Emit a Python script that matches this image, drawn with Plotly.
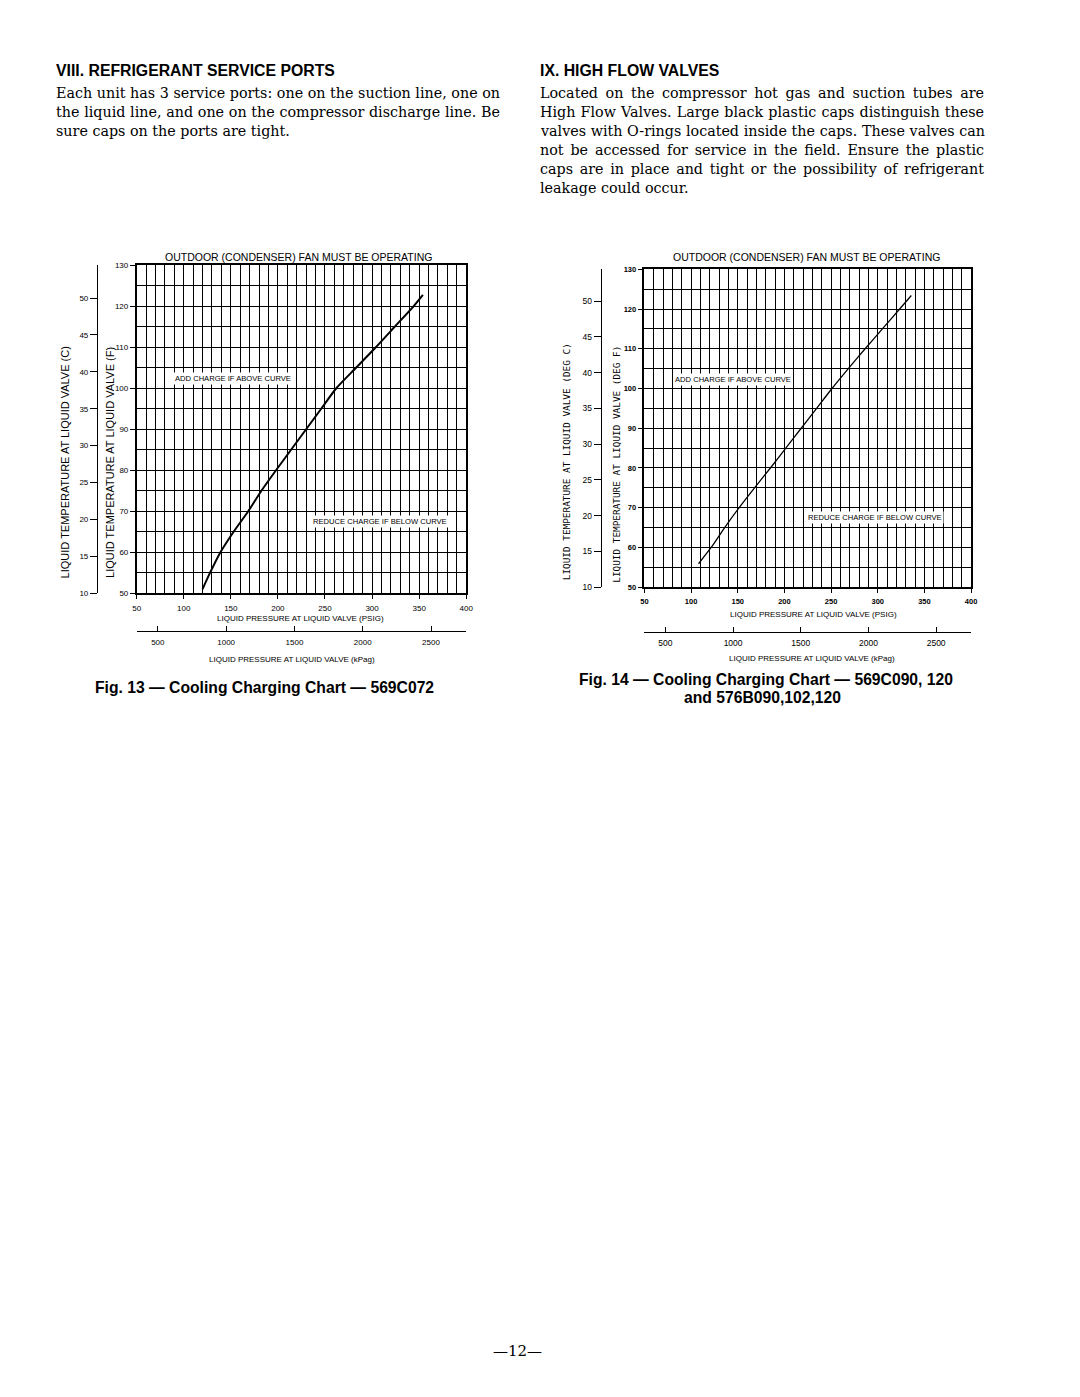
import json
import plotly.graph_objects as go

W, H = 1080, 1397

# ---------------- data ----------------
# Fig. 13 curve (569C072): liquid pressure (psig) vs liquid temperature (F)
fig13_psig = [120, 128, 139, 153, 168.5, 182.5, 198, 214, 230, 246, 262, 283, 304, 324, 344, 354]
fig13_tempF = [51, 55, 60, 65, 70, 75, 80, 85, 90, 95, 100, 105, 110, 115, 120, 122.8]

# Fig. 14 curve (569C090,120 and 576B090,102,120)
fig14_psig = [108, 121.5, 136, 151.5, 168, 185, 201.5, 218, 234.5, 251, 268.5, 286.5, 305, 323.5, 336]
fig14_tempF = [55.9, 60, 65, 70, 75, 80, 85, 90, 95, 100, 105, 110, 115, 120, 123.4]

psig_ticks = [50, 100, 150, 200, 250, 300, 350, 400]
tempF_ticks = [50, 60, 70, 80, 90, 100, 110, 120, 130]
tempC_ticks = [10, 15, 20, 25, 30, 35, 40, 45, 50]
kpa_ticks = [500, 1000, 1500, 2000, 2500]

left_header = "VIII. REFRIGERANT SERVICE PORTS"
left_lines = [
    "Each unit has 3 service ports: one on the suction line, one on",
    "the liquid line, and one on the compressor discharge line. Be",
    "sure caps on the ports are tight.",
]
right_header = "IX. HIGH FLOW VALVES"
right_lines = [
    "Located on the compressor hot gas and suction tubes are",
    "High Flow Valves. Large black plastic caps distinguish these",
    "valves with O-rings located inside the caps. These valves can",
    "not be accessed for service in the field. Ensure the plastic",
    "caps are in place and tight or the possibility of refrigerant",
    "leakage could occur.",
]

PSI_TO_KPA = 6.895
COLUMN_WIDTH = 444  # justified text column width (px)


def f_to_c(f):
    return (f - 32) / 1.8


def fx(px):
    return px / W


def fy(py):
    return 1 - py / H


fig = go.Figure()

SANS = "Liberation Sans, Arial, sans-serif"
SERIF = "DejaVu Serif, serif"
MONO = "DejaVu Sans Mono, monospace"

charts = [
    dict(psig=fig13_psig, temp=fig13_tempF, x0=134, x1=467, y0=263, y1=593,
         cpos=94, kpos=631, xa="x", ya="y", xa2="x2", ya2="y2",
         lw=2.0, tickfont=dict(family=SANS, size=8, color="black"),
         ctickfont=dict(family=SANS, size=8, color="black")),
    dict(psig=fig14_psig, temp=fig14_tempF, x0=647, x1=977, y0=267, y1=587,
         cpos=603, kpos=632, xa="x3", ya="y3", xa2="x4", ya2="y4",
         lw=1.3, tickfont=dict(family=SANS, size=7.5, color="black", weight="bold"),
         ctickfont=dict(family=SANS, size=8.5, color="black")),
]

layout_axes = {}
for i, c in enumerate(charts):
    fig.add_trace(go.Scatter(x=c["psig"], y=c["temp"], mode="lines",
                             line=dict(color="black", width=c["lw"], shape="spline",
                                       smoothing=0.6),
                             xaxis=c["xa"], yaxis=c["ya"], showlegend=False,
                             hoverinfo="skip"))
    # invisible trace on converted axes (kPa / C)
    fig.add_trace(go.Scatter(x=[p * PSI_TO_KPA for p in c["psig"]],
                             y=[f_to_c(t) for t in c["temp"]], mode="lines",
                             line=dict(color="rgba(0,0,0,0)", width=0),
                             xaxis=c["xa2"], yaxis=c["ya2"], showlegend=False,
                             hoverinfo="skip"))
    xn = "xaxis" if c["xa"] == "x" else "xaxis" + c["xa"][1:]
    yn = "yaxis" if c["ya"] == "y" else "yaxis" + c["ya"][1:]
    xn2 = "xaxis" + c["xa2"][1:]
    yn2 = "yaxis" + c["ya2"][1:]
    grid = dict(gridcolor="black", gridwidth=1.4)
    layout_axes[xn] = dict(
        domain=[fx(c["x0"]), fx(c["x1"])], anchor=c["ya"], range=[50, 400],
        tickvals=psig_ticks, showgrid=True, **grid,
        minor=dict(dtick=10, showgrid=True, gridcolor="black", gridwidth=1.3, ticks=""),
        showline=True, mirror=True, linecolor="black", linewidth=1.5,
        ticks="outside", ticklen=4, tickcolor="black", tickfont=c["tickfont"],
        zeroline=False, fixedrange=True, ticklabelstandoff=2)
    layout_axes[yn] = dict(
        domain=[fy(c["y1"]), fy(c["y0"])], anchor=c["xa"], range=[50, 130],
        tickvals=tempF_ticks, showgrid=True, **grid,
        minor=dict(dtick=5, showgrid=True, gridcolor="black", gridwidth=1.3, ticks=""),
        showline=True, mirror=True, linecolor="black", linewidth=1.5,
        ticks="outside", ticklen=5, tickcolor="black", tickfont=c["tickfont"],
        zeroline=False, fixedrange=True)
    layout_axes[yn2] = dict(
        overlaying=c["ya"], anchor="free", position=fx(c["cpos"]), side="left",
        range=[f_to_c(50), f_to_c(130)], tickvals=tempC_ticks, showgrid=False,
        showline=True, linecolor="black", linewidth=1.3,
        ticks="outside", ticklen=7, tickcolor="black", tickfont=c["ctickfont"],
        zeroline=False, fixedrange=True)
    layout_axes[xn2] = dict(
        overlaying=c["xa"], anchor="free", position=fy(c["kpos"]), side="bottom",
        range=[50 * PSI_TO_KPA, 400 * PSI_TO_KPA], tickvals=kpa_ticks, showgrid=False,
        showline=True, linecolor="black", linewidth=1.3,
        ticks="inside", ticklen=5, tickcolor="black", tickfont=c["ctickfont"],
        zeroline=False, fixedrange=True, ticklabelstandoff=3)

fig.update_layout(**layout_axes)

ann = []


def text(x, y, s, size, family=SANS, xanchor="left", bold=False, angle=0,
         bg=None, align="left"):
    if bold:
        s = "<b>" + s + "</b>"
    d = dict(x=fx(x), y=fy(y), xref="paper", yref="paper", text=s,
             showarrow=False, xanchor=xanchor, yanchor="middle",
             font=dict(family=family, size=size, color="black"),
             textangle=angle, align=align, borderpad=1)
    if bg:
        d["bgcolor"] = bg
    ann.append(d)


# page text
text(51, 67, left_header, 15.8, bold=True)
for i, line in enumerate(left_lines):
    text(51, 90 + 19 * i, line, 14.3, family=SERIF)
text(539, 67, right_header, 15.8, bold=True)
for i, line in enumerate(right_lines):
    text(539, 90 + 19 * i, line, 14.3, family=SERIF)

# Fig 13 labels
text(298, 255, "OUTDOOR (CONDENSER) FAN MUST BE OPERATING", 10.5, xanchor="center")
text(171, 377, "ADD CHARGE IF ABOVE CURVE", 7.6, bg="white")
text(310, 521, "REDUCE CHARGE IF BELOW CURVE", 7.6, bg="white")
text(300, 618, "LIQUID PRESSURE AT LIQUID VALVE (PSIG)", 8, xanchor="center")
text(291, 660, "LIQUID PRESSURE AT LIQUID VALVE (kPag)", 8, xanchor="center")
text(62, 461, "LIQUID TEMPERATURE AT LIQUID VALVE (C)", 11, xanchor="center", angle=-90)
text(107, 461, "LIQUID TEMPERATURE AT LIQUID VALVE (F)", 11, xanchor="center", angle=-90)
text(263, 688, "Fig. 13 — Cooling Charging Chart — 569C072", 15.7, xanchor="center", bold=True)

# Fig 14 labels
text(811, 255, "OUTDOOR (CONDENSER) FAN MUST BE OPERATING", 10.5, xanchor="center")
text(676, 378, "ADD CHARGE IF ABOVE CURVE", 7.6, bg="white")
text(810, 517, "REDUCE CHARGE IF BELOW CURVE", 7.6, bg="white")
text(818, 614, "LIQUID PRESSURE AT LIQUID VALVE (PSIG)", 8, xanchor="center")
text(816, 659, "LIQUID PRESSURE AT LIQUID VALVE (kPag)", 8, xanchor="center")
text(568, 461, "LIQUID TEMPERATURE AT LIQUID VALVE (DEG C)", 9.4, family=MONO,
     xanchor="center", angle=-90)
text(618, 463, "LIQUID TEMPERATURE AT LIQUID VALVE (DEG F)", 9.4, family=MONO,
     xanchor="center", angle=-90)
text(770, 680, "Fig. 14 — Cooling Charging Chart — 569C090, 120", 15.7, xanchor="center", bold=True)
text(766, 698, "and 576B090,102,120", 15.7, xanchor="center", bold=True)

# page number
text(519, 1356, "—12—", 15, family=SERIF, xanchor="center")

fig.update_layout(
    width=W, height=H, autosize=False,
    margin=dict(l=0, r=0, t=0, b=0),
    paper_bgcolor="white", plot_bgcolor="white",
    annotations=ann, showlegend=False,
)

# justify all paragraph lines except the last line of each paragraph
justify = {s: COLUMN_WIDTH for s in left_lines[:-1] + right_lines[:-1]}
post_js = """
try {
  var targets = %s;
  var els = document.querySelectorAll('text.annotation-text');
  els.forEach(function(t) {
    var s = t.textContent;
    if (Object.prototype.hasOwnProperty.call(targets, s)) {
      var n = (s.match(/ /g) || []).length;
      var L = t.getComputedTextLength();
      if (n > 0 && L < targets[s]) {
        t.style.wordSpacing = ((targets[s] - L) / n) + 'px';
      }
    }
  });
} catch (e) {}
""" % json.dumps(justify)

fig.write_html("out.html", config={"displayModeBar": False}, post_script=post_js)
